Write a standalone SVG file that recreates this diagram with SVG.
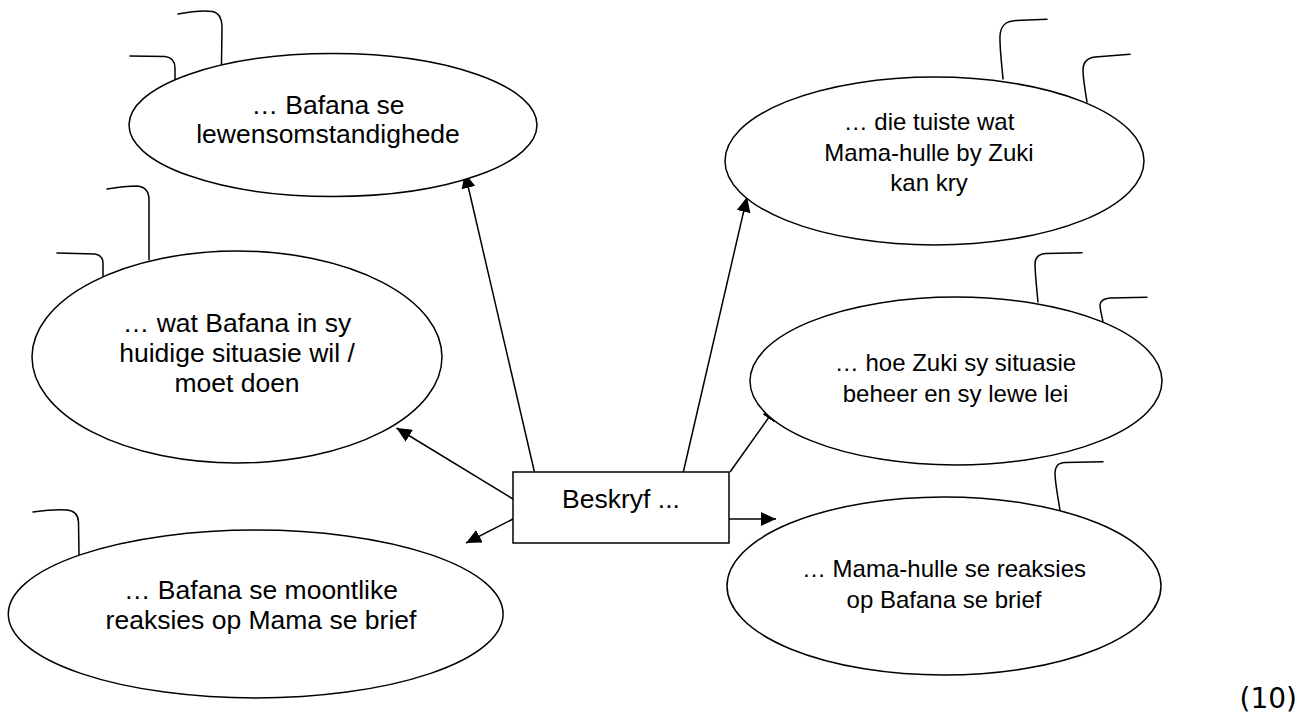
<svg xmlns="http://www.w3.org/2000/svg" width="1301" height="715" viewBox="0 0 1301 715">
<style>
.n{fill:#fff;stroke:#000;stroke-width:1.5}
.t{fill:none;stroke:#000;stroke-width:1.5;stroke-linecap:round}
.c{fill:none;stroke:#000;stroke-width:1.5}
.l{font-family:"Liberation Sans",Arial,sans-serif;font-size:26.5px;fill:#000;text-anchor:middle}
.r{font-family:"Liberation Sans",Arial,sans-serif;font-size:24px;fill:#000;text-anchor:middle}
.m{font-family:"DejaVu Sans",Verdana,sans-serif;font-size:28px;fill:#000;text-anchor:end}
</style>
<defs>
<marker id="ah" markerUnits="userSpaceOnUse" markerWidth="16" markerHeight="14" refX="15" refY="7" orient="auto">
<path d="M0,0 L15,7 L0,14 z" fill="#000"/>
</marker>
</defs>
<rect width="1301" height="715" fill="#fff"/>
<g id="connectors">
<line class="c" x1="537" y1="483" x2="465" y2="173" marker-end="url(#ah)"/>
<line class="c" x1="681" y1="482" x2="747" y2="197" marker-end="url(#ah)"/>
<line class="c" x1="730" y1="472" x2="777" y2="406" marker-end="url(#ah)"/>
<line class="c" x1="729" y1="519" x2="776" y2="519" marker-end="url(#ah)"/>
<line class="c" x1="513" y1="499" x2="396.5" y2="428" marker-end="url(#ah)"/>
<line class="c" x1="513" y1="519" x2="466" y2="543" marker-end="url(#ah)"/>
</g>
<g id="tails">
<path class="t" d="M178,14 Q200,10 212,11.5 Q222,13 222,28 L221.5,64"/>
<path class="t" d="M130,56 L165,56.5 Q175,57.5 175,68 L175,80"/>
<path class="t" d="M107,189 Q125,186 137,186 Q149,187 149,200 L149,260"/>
<path class="t" d="M57,253 L95,254 Q103,255.5 103,263 L103,277"/>
<path class="t" d="M33,512 Q55,509 67,510 Q78,511 78.5,522 L79,555"/>
<path class="t" d="M1003,79 C1001.5,62 999.5,46 1000,36 C1000.5,26 1005,21 1016,20.5 L1047,19.3"/>
<path class="t" d="M1087,102 C1085,90 1083,78 1083,70 C1083,62 1087,58 1095,57 L1130,54.3"/>
<path class="t" d="M1038,302 C1036.5,287 1035,272 1035,264 C1035,258 1038,254 1046,253.5 L1082,252.7"/>
<path class="t" d="M1103,322 C1101.5,314 1100,309 1100,305 C1100.5,300 1104,298.5 1110,298 L1147,297.3"/>
<path class="t" d="M1060,510 C1057.5,495 1055,482 1055,473 C1055.5,466 1058,463 1065,462.5 L1103,461.7"/>
</g>
<g id="node-lewensomstandighede">
<ellipse class="n" cx="333" cy="125" rx="204" ry="71.5"/>
<text class="l" x="328" y="114">… Bafana se</text>
<text class="l" x="328" y="143">lewensomstandighede</text>
</g>
<g id="node-situasie">
<ellipse class="n" cx="237" cy="357" rx="205" ry="106"/>
<text class="l" x="237" y="332">… wat Bafana in sy</text>
<text class="l" x="237" y="362">huidige situasie wil /</text>
<text class="l" x="237" y="392">moet doen</text>
</g>
<g id="node-reaksies-bafana">
<ellipse class="n" cx="255.7" cy="614" rx="247.4" ry="84"/>
<text class="l" x="261" y="599">… Bafana se moontlike</text>
<text class="l" x="261" y="629">reaksies op Mama se brief</text>
</g>
<g id="node-tuiste">
<ellipse class="n" cx="934.5" cy="161" rx="209.5" ry="84"/>
<text class="r" x="929" y="130">… die tuiste wat</text>
<text class="r" x="929" y="161">Mama-hulle by Zuki</text>
<text class="r" x="929" y="191">kan kry</text>
</g>
<g id="node-zuki">
<ellipse class="n" cx="956" cy="381" rx="206" ry="84"/>
<text class="r" x="955.5" y="371">… hoe Zuki sy situasie</text>
<text class="r" x="955.5" y="402">beheer en sy lewe lei</text>
</g>
<g id="node-reaksies-mama">
<ellipse class="n" cx="944" cy="586" rx="217" ry="89"/>
<text class="r" x="944" y="577">… Mama-hulle se reaksies</text>
<text class="r" x="944" y="608">op Bafana se brief</text>
</g>
<g id="node-beskryf">
<rect class="n" x="513" y="472" width="216" height="71"/>
<text class="l" x="621" y="508">Beskryf ...</text>
</g>
<text class="m" x="1297" y="708">(10)</text>
</svg>
